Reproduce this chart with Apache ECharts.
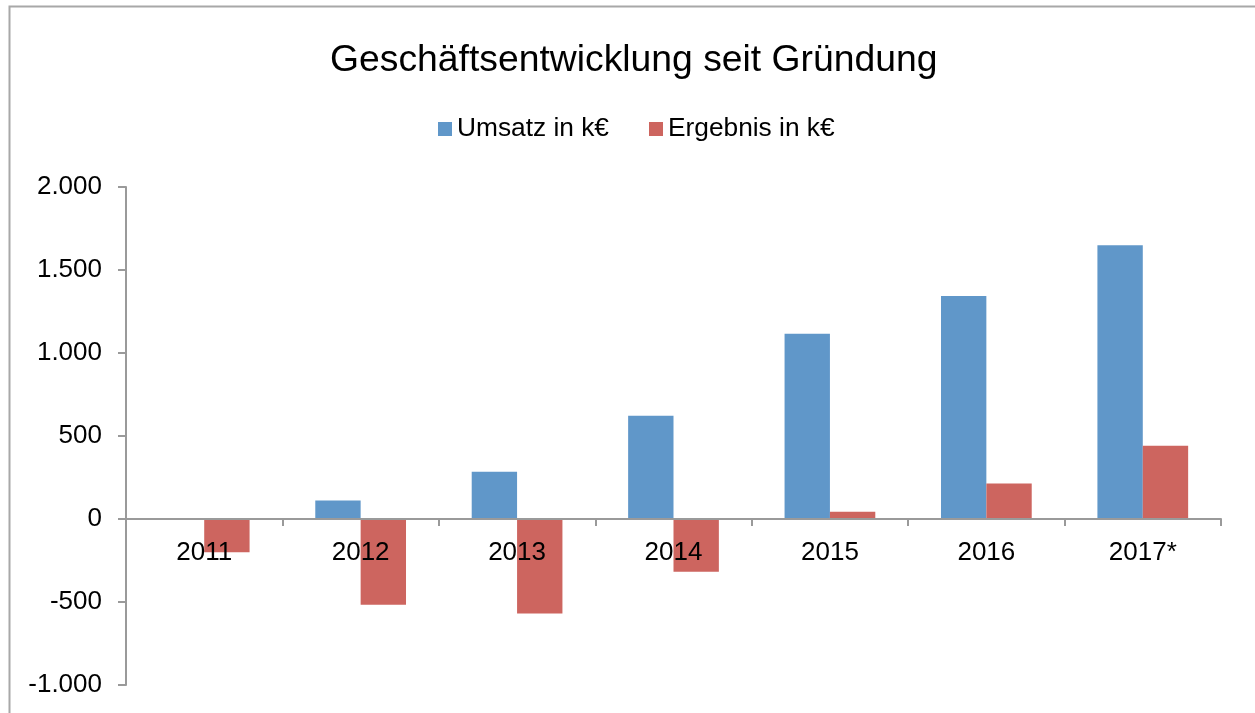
<!DOCTYPE html>
<html>
<head>
<meta charset="utf-8">
<script src="https://cdn.jsdelivr.net/npm/echarts@6/dist/echarts.min.js"></script>
<style>
  html, body { margin: 0; padding: 0; background: #fff; }
  #chart { width: 1255px; height: 713px; }
</style>
</head>
<body>
<div id="chart"></div>
<script>
  // Daten
  const jahre = ['2011', '2012', '2013', '2014', '2015', '2016', '2017*'];
  const umsatz = [0, 111, 285, 622, 1116, 1343, 1649];
  const ergebnis = [-200, -516, -570, -318, 43, 214, 441];
  const yMin = -1000, yMax = 2000, yStep = 500;

  const FONT = '"Liberation Sans", Arial, sans-serif';
  const axisGray = '#9a9a9a';
  const gridTop = 187, gridBottom = 28, H = 713;

  // Zahlen im deutschen Format (1.000)
  function deFormat(v) {
    const s = Math.abs(v).toString().replace(/\B(?=(\d{3})+(?!\d))/g, '.');
    return (v < 0 ? '-' : '') + s;
  }

  // x-Achse (mit Beschriftung) auf die Nulllinie schieben
  const gridH = H - gridTop - gridBottom;
  const zeroOffset = -gridH * (0 - yMin) / (yMax - yMin);

  const chart = echarts.init(document.getElementById('chart'));

  const option = {
    backgroundColor: '#fff',
    animation: false,
    title: {
      text: 'Geschäftsentwicklung seit Gründung',
      left: 330,
      top: 42,
      padding: 0,
      textStyle: { fontFamily: FONT, fontSize: 37.3, fontWeight: 'normal', color: '#000' }
    },
    legend: {
      left: 438,
      top: 116,
      padding: 0,
      itemWidth: 14,
      itemHeight: 14,
      itemGap: 40,
      icon: 'rect',
      textStyle: { fontFamily: FONT, fontSize: 26.3, color: '#000' },
      data: ['Umsatz in k€', 'Ergebnis in k€']
    },
    graphic: [{
      type: 'rect',
      shape: { x: 9.5, y: 6.5, width: 1400, height: 900 },
      style: { fill: 'none', stroke: '#a8a8a8', lineWidth: 2 },
      silent: true
    }],
    grid: { left: 126, right: 34, top: gridTop, bottom: gridBottom, outerBoundsMode: 'none' },
    xAxis: {
      type: 'category',
      data: jahre,
      offset: zeroOffset,
      z: 10,
      axisLine: { onZero: false, lineStyle: { color: axisGray, width: 2 } },
      axisTick: { show: true, length: 7, lineStyle: { color: axisGray, width: 2 } },
      axisLabel: { fontFamily: FONT, fontSize: 26, color: '#000', margin: 21 }
    },
    yAxis: {
      type: 'value',
      min: yMin,
      max: yMax,
      interval: yStep,
      splitLine: { show: false },
      axisLine: { show: true, lineStyle: { color: axisGray, width: 2 } },
      axisTick: { show: true, length: 8, lineStyle: { color: axisGray, width: 2 } },
      axisLabel: { fontFamily: FONT, fontSize: 26, color: '#000', margin: 24, formatter: deFormat }
    },
    series: [
      {
        name: 'Umsatz in k€',
        type: 'bar',
        data: umsatz,
        itemStyle: { color: '#6097C9' },
        barGap: '0%',
        barCategoryGap: '42%'
      },
      {
        name: 'Ergebnis in k€',
        type: 'bar',
        data: ergebnis,
        itemStyle: { color: '#CD655F' }
      }
    ]
  };

  chart.setOption(option);
</script>
</body>
</html>
